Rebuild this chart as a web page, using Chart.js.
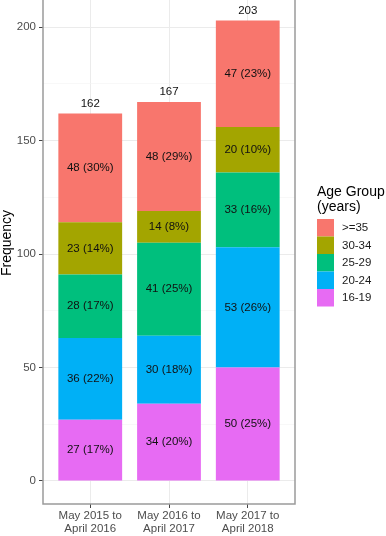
<!DOCTYPE html>
<html>
<head>
<meta charset="utf-8">
<script src="https://cdn.jsdelivr.net/npm/chart.js@4"></script>
<style>
  body { margin: 0; background: #fff; }
  canvas { display: block; }
</style>
</head>
<body>
<canvas id="ageChart" width="386" height="536"></canvas>
<script>
// Periods (x categories), each label split on two lines
const periods = [
    ['May 2015 to', 'April 2016'],
    ['May 2016 to', 'April 2017'],
    ['May 2017 to', 'April 2018']
];

// Age groups, bottom of stack first
const ageGroups = ['16-19', '20-24', '25-29', '30-34', '>=35'];
const groupColors = ['#E76BF3', '#00B0F6', '#00BF7D', '#A3A500', '#F8766D'];

// Counts per age group, one value per period
const age16to19 = [27, 34, 50];
const age20to24 = [36, 30, 53];
const age25to29 = [28, 41, 33];
const age30to34 = [23, 14, 20];
const age35plus = [48, 48, 47];

const yTicks = [0, 25, 50, 75, 100, 125, 150, 175, 200];

const series = [age16to19, age20to24, age25to29, age30to34, age35plus];
const totals = periods.map((p, i) => series.reduce((s, arr) => s + arr[i], 0));

const FONT = '"Liberation Sans", Arial, sans-serif';
Chart.defaults.font.family = FONT;

const canvas = document.getElementById('ageChart');
const ctx = canvas.getContext('2d');

// labels inside segments + totals on top, y title, panel border, legend
const annotate = {
    id: 'annotate',
    afterDatasetsDraw(chart) {
        const c = chart.ctx;
        c.save();
        c.font = '11.5px ' + FONT;
        c.fillStyle = '#111';
        c.textAlign = 'center';
        c.textBaseline = 'middle';
        chart.data.datasets.forEach((ds, di) => {
            const meta = chart.getDatasetMeta(di);
            meta.data.forEach((bar, i) => {
                const v = ds.data[i].y;
                const pct = Math.round(v / totals[i] * 100);
                c.fillText(v + ' (' + pct + '%)', bar.x, (bar.y + bar.base) / 2);
            });
        });
        const top = chart.getDatasetMeta(chart.data.datasets.length - 1);
        top.data.forEach((bar, i) => {
            c.fillText(String(totals[i]), bar.x, bar.y - 10);
        });
        c.restore();
    },
    afterDraw(chart) {
        const c = chart.ctx;
        const a = chart.chartArea;
        c.save();
        // panel border
        c.strokeStyle = '#9A9A9A';
        c.lineWidth = 1.5;
        c.strokeRect(a.left, a.top - 2, a.right - a.left, a.bottom - a.top + 2);

        // y axis title
        c.fillStyle = '#000';
        c.font = '14px ' + FONT;
        c.textAlign = 'center';
        c.textBaseline = 'middle';
        c.save();
        c.translate(7, 243);
        c.rotate(-Math.PI / 2);
        c.fillText('Frequency', 0, 0);
        c.restore();

        // legend
        c.textAlign = 'left';
        c.fillText('Age Group', 317, 192);
        c.fillText('(years)', 317, 207);
        const keyH = 17.5;
        c.font = '11.5px ' + FONT;
        for (let k = 0; k < ageGroups.length; k++) {
            const gi = ageGroups.length - 1 - k;
            const y = 219 + k * keyH;
            c.fillStyle = groupColors[gi];
            c.fillRect(317, y, 17, keyH);
            c.fillStyle = '#1a1a1a';
            c.fillText(ageGroups[gi], 342, y + keyH / 2 + 0.5);
        }
        c.restore();
    }
};

const datasets = series.map((arr, gi) => ({
    label: ageGroups[gi],
    data: arr.map((v, i) => ({ x: i + 1, y: v })),
    backgroundColor: groupColors[gi],
    borderWidth: 0,
    categoryPercentage: 1,
    barPercentage: 0.81
}));

const ageChart = new Chart(ctx, {
    type: 'bar',
    data: { datasets: datasets },
    options: {
        responsive: false,
        devicePixelRatio: 1,
        animation: false,
        layout: { padding: { left: 0, right: 91, top: 0, bottom: 0 } },
        plugins: {
            legend: { display: false },
            tooltip: { enabled: false }
        },
        scales: {
            x: {
                type: 'linear',
                stacked: true,
                offset: false,
                min: 0.4,
                max: 3.6,
                border: { display: false },
                afterBuildTicks(scale) {
                    scale.ticks = periods.map((p, i) => ({ value: i + 1 }));
                },
                afterFit(scale) {
                    scale.height = 32;
                    scale.paddingLeft = 0;
                    scale.paddingRight = 0;
                },
                grid: {
                    offset: false,
                    color: '#EBEBEB',
                    lineWidth: 1,
                    tickLength: 4,
                    tickColor: '#444',
                    tickWidth: 1
                },
                ticks: {
                    color: '#4D4D4D',
                    font: { size: 11.5, lineHeight: 1.1 },
                    padding: 2,
                    maxRotation: 0,
                    autoSkip: false,
                    callback: (v) => periods[Math.round(v) - 1]
                }
            },
            y: {
                stacked: true,
                min: -10.15,
                max: 212,
                border: { display: false },
                afterBuildTicks(scale) {
                    scale.ticks = yTicks.map(v => ({ value: v }));
                },
                afterFit(scale) {
                    scale.width = 43;
                    scale.paddingTop = 0;
                    scale.paddingBottom = 0;
                },
                grid: {
                    color: (c) => c.tick && c.tick.value % 50 === 0 ? '#EBEBEB' : '#F3F3F3',
                    lineWidth: (c) => c.tick && c.tick.value % 50 === 0 ? 1 : 0.6,
                    tickLength: 4,
                    tickColor: (c) => c.tick && c.tick.value % 50 === 0 ? '#444' : 'rgba(0,0,0,0)',
                    tickWidth: 1
                },
                ticks: {
                    color: '#4D4D4D',
                    font: { size: 11.5 },
                    padding: 3,
                    autoSkip: false,
                    callback: (v) => v % 50 === 0 ? String(v) : ''
                }
            }
        }
    },
    plugins: [annotate]
});
</script>
</body>
</html>
